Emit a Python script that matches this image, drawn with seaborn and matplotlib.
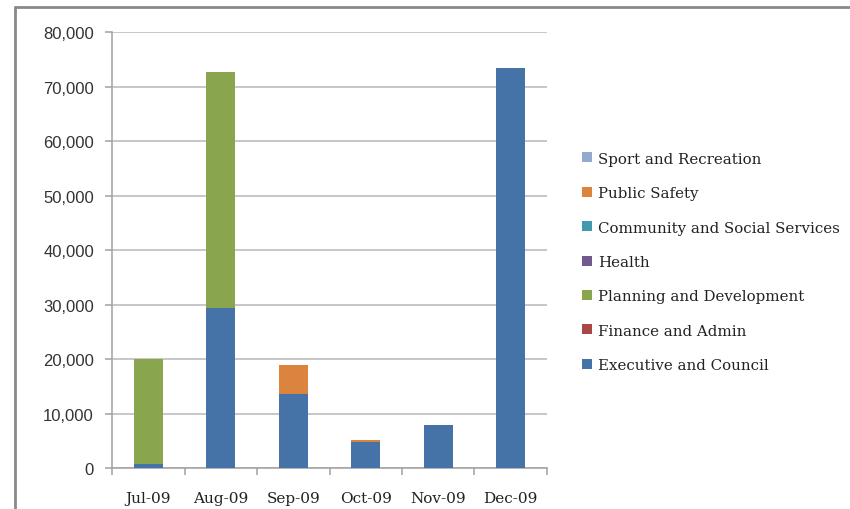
import matplotlib
matplotlib.use("Agg")
import pandas as pd
import seaborn as sns
from matplotlib import pyplot as plt
from matplotlib.patches import Patch
from matplotlib.lines import Line2D

months = ["Jul-09", "Aug-09", "Sep-09", "Oct-09", "Nov-09", "Dec-09"]

# stacking order, bottom to top
categories = [
    "Executive and Council",
    "Finance and Admin",
    "Planning and Development",
    "Health",
    "Community and Social Services",
    "Public Safety",
    "Sport and Recreation",
]

executive = [700, 29400, 13600, 4850, 7900, 73400]
finance = [0, 0, 0, 0, 0, 0]
planning = [19300, 43300, 0, 0, 0, 0]
health = [0, 0, 0, 0, 0, 0]
community = [0, 0, 0, 0, 0, 0]
safety = [0, 0, 5250, 250, 0, 0]
sport = [0, 0, 0, 0, 0, 0]

colors = ["#4572A7", "#AA4643", "#89A54E", "#71588F", "#4198AF", "#DB843D", "#93A9CF"]

df = pd.DataFrame(
    dict(zip(categories, [executive, finance, planning, health, community, safety, sport])),
    index=months,
)
cum = df.cumsum(axis=1)

sns.set_style("white")
plt.rcParams["font.family"] = ["DejaVu Serif"]

fig = plt.figure(figsize=(8.5, 5.1), dpi=100)
ax = fig.add_axes([0.1318, 0.0798, 0.5117, 0.8555])

# draw cumulative totals from the top layer down so each lower layer covers the one above
for cat, col in zip(categories[::-1], colors[::-1]):
    sns.barplot(x=cum.index, y=cum[cat].values, color=col, width=0.4,
                saturation=1, linewidth=0, edgecolor="none", ax=ax, zorder=3)

ax.set_ylim(0, 80000)
ax.set_xlim(-0.5, len(months) - 0.5)
ax.set_yticks(range(0, 80001, 10000))
ax.set_yticklabels([f"{v:,}" for v in range(0, 80001, 10000)],
                   family="Liberation Sans", fontsize=12, color="#333333")
ax.set_xticks(range(len(months)))
ax.set_xticklabels(months, fontsize=11, color="#222222")
ax.set_xlabel("")
ax.set_ylabel("")
ax.grid(axis="y", color="#b8b8b8", linewidth=1.1, zorder=0)
ax.set_axisbelow(True)

for s in ["top", "right"]:
    ax.spines[s].set_visible(False)
for s in ["left", "bottom"]:
    ax.spines[s].set_color("#a0a0a0")
    ax.spines[s].set_linewidth(1.1)

ax.tick_params(axis="y", length=5, color="#a0a0a0", width=1.1, left=True, pad=8)
ax.tick_params(axis="x", length=0, pad=16)
# category separator ticks on the x axis
ax.set_xticks([i - 0.5 for i in range(len(months) + 1)], minor=True)
ax.tick_params(axis="x", which="minor", length=5, color="#a0a0a0", width=1.1, bottom=True)

handles = [Patch(facecolor=c, edgecolor="none") for c in colors[::-1]]
leg = fig.legend(handles, categories[::-1], loc="upper left",
                 bbox_to_anchor=(0.669, 0.727), frameon=False, fontsize=10.8,
                 handlelength=0.65, handleheight=0.65, handletextpad=0.4,
                 labelspacing=1.36, labelcolor="#222222")

# outer chart frame (top and left edges visible)
fig.add_artist(Line2D([0.018, 1.0], [0.985, 0.985], color="#8a8a8a", linewidth=2,
                      transform=fig.transFigure))
fig.add_artist(Line2D([0.018, 0.018], [0.0, 0.985], color="#8a8a8a", linewidth=2,
                      transform=fig.transFigure))

fig.savefig("out.png", dpi=100)
